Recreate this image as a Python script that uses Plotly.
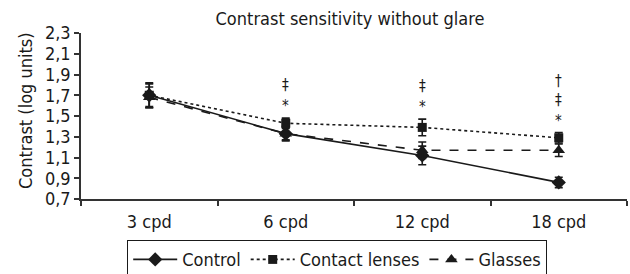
import plotly.graph_objects as go

categories = ["3 cpd", "6 cpd", "12 cpd", "18 cpd"]
control = [1.70, 1.33, 1.12, 0.86]
control_err = [0.12, 0.07, 0.09, 0.05]
contact = [1.70, 1.43, 1.39, 1.29]
contact_err = [0.11, 0.05, 0.08, 0.05]
glasses = [1.68, 1.33, 1.17, 1.17]
glasses_err = [0.10, 0.06, 0.08, 0.06]
sig_marks = [[], ["*", "‡"], ["*", "‡"], ["*", "‡", "†"]]
y_ticks = [0.7, 0.9, 1.1, 1.3, 1.5, 1.7, 1.9, 2.1, 2.3]

FONT = "'Liberation Sans Narrow', 'DejaVu Sans Condensed', 'Roboto Condensed', 'Arial Narrow', Roboto, sans-serif"
INK = "#1a1a1a"

fig = go.Figure()

def add(name, y, err, dash, symbol, msize):
    fig.add_trace(go.Scatter(
        x=categories, y=y, name=name, mode="lines+markers",
        line=dict(color=INK, width=1.6, dash=dash),
        marker=dict(symbol=symbol, size=msize, color=INK),
        error_y=dict(type="data", array=err, visible=True, color=INK, thickness=1.6, width=4),
    ))

add("Control", control, control_err, "solid", "diamond", 11)
add("Contact lenses", contact, contact_err, "dot", "square", 9)
add("Glasses", glasses, glasses_err, "dash", "triangle-up", 11)

shifts = {"*": 12, "‡": 33, "†": 52}
for cat, v, e, marks in zip(categories, contact, contact_err, sig_marks):
    for m in marks:
        fig.add_annotation(x=cat, y=v + e, text=m, showarrow=False,
                           yanchor="middle", yshift=shifts[m],
                           font=dict(family=FONT, size=15, color=INK))

# y-axis title as rotated annotation
fig.add_annotation(xref="paper", yref="paper", x=-(81 - 25) / 546, y=(199 - 111) / 166,
                   text="Contrast (log units)", textangle=-90, showarrow=False,
                   xanchor="center", yanchor="middle",
                   font=dict(family=FONT, size=18, color=INK))

fig.update_layout(
    width=630, height=274,
    margin=dict(l=81, r=3, t=33, b=75, autoexpand=False),
    paper_bgcolor="white", plot_bgcolor="white",
    separators=", ",
    font=dict(family=FONT, size=18, color=INK),
    title=dict(text="Contrast sensitivity without glare", x=350 / 630,
               xanchor="center", y=1 - 19 / 274, yanchor="middle",
               font=dict(family=FONT, size=18, color=INK)),
    showlegend=True,
    legend=dict(orientation="h", x=(127 - 81) / 546, xanchor="left", y=-(240 - 199) / 166, yanchor="top",
                bordercolor=INK, borderwidth=1.2, font=dict(family=FONT, size=18, color=INK),
                itemsizing="trace", itemwidth=44, tracegroupgap=0),
    xaxis=dict(type="category", range=[-0.5, 3.5], tickson="boundaries", automargin=False,
               showline=True, linecolor="#333", linewidth=1.5,
               ticks="outside", ticklen=5, tickcolor="#333", tickwidth=1.5,
               ticklabelstandoff=6,
               showgrid=False, zeroline=False, tickfont=dict(size=18)),
    yaxis=dict(range=[0.7, 2.3], tickvals=y_ticks, tickformat=".1f", automargin=False,
               showline=True, linecolor="#333", linewidth=1.5,
               ticks="outside", ticklen=5, tickcolor="#333", tickwidth=1.5,
               showgrid=False, zeroline=False, tickfont=dict(size=18)),
)

fig.write_html("out.html", config={"displayModeBar": False},
               post_script="document.body.style.margin='0';document.body.style.padding='0';")
